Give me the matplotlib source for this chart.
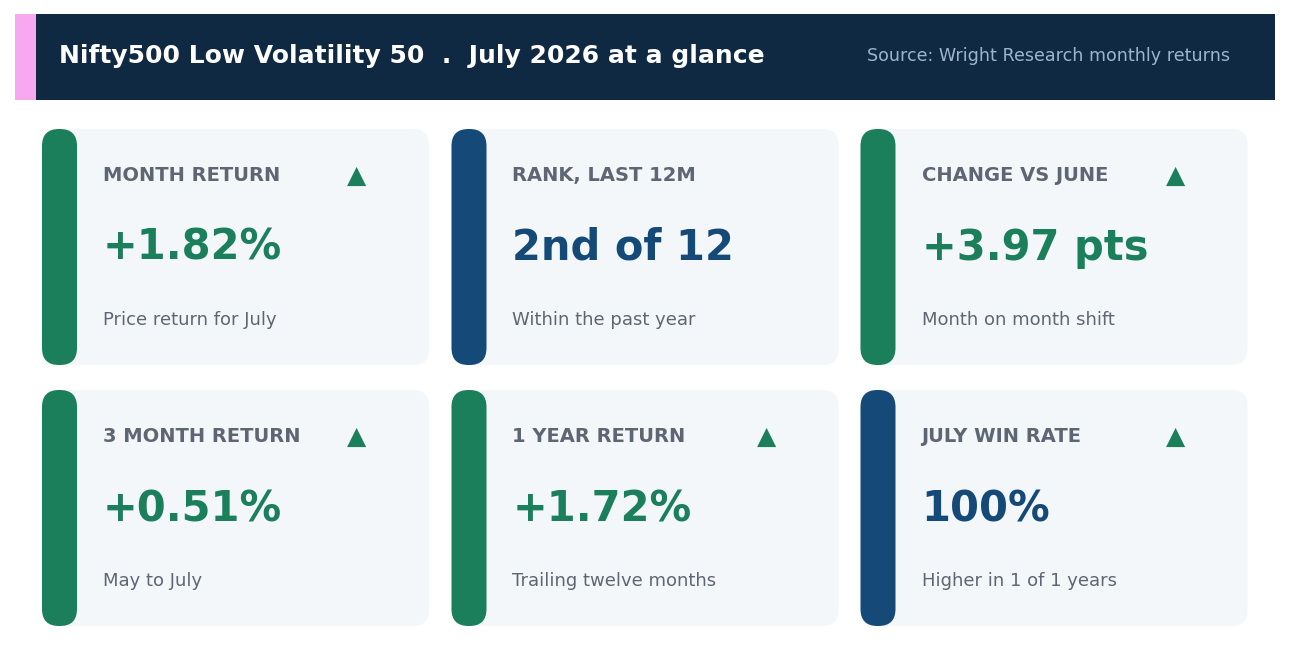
import matplotlib
matplotlib.use("Agg")
import matplotlib.pyplot as plt
from matplotlib.patches import FancyBboxPatch, Rectangle

plt.rcParams['font.family'] = ['DejaVu Sans']

# card content
labels = ["MONTH RETURN", "RANK, LAST 12M", "CHANGE VS JUNE",
          "3 MONTH RETURN", "1 YEAR RETURN", "JULY WIN RATE"]
values = ["+1.82%", "2nd of 12", "+3.97 pts", "+0.51%", "+1.72%", "100%"]
notes = ["Price return for July", "Within the past year", "Month on month shift",
         "May to July", "Trailing twelve months", "Higher in 1 of 1 years"]
tones = ["up", "neutral", "up", "up", "up", "neutral"]
arrows = [True, False, True, True, True, True]

title = "Nifty500 Low Volatility 50  .  July 2026 at a glance"
source = "Source: Wright Research monthly returns"

GREEN = "#1A7F5A"
NAVY = "#154A78"
HEAD = "#0F2942"
PINK = "#F7A8F0"
CARD = "#F3F7FA"
LABEL = "#5F6673"
tone_col = {"up": GREEN, "neutral": NAVY}

W, H = 1290, 659
fig = plt.figure(figsize=(W / 100, H / 100), dpi=100)
ax = fig.add_axes([0, 0, 1, 1])
ax.set_xlim(0, W)
ax.set_ylim(H, 0)
ax.axis("off")

# header band
ax.add_patch(Rectangle((15, 14), 1260, 86, facecolor=HEAD, edgecolor="none"))
ax.add_patch(Rectangle((15, 14), 21, 86, facecolor=PINK, edgecolor="none"))
ax.text(59, 63, title, color="white", fontsize=18, fontweight="bold",
        va="baseline", ha="left")
ax.text(1230, 61, source, color="#9DB4CC", fontsize=12.6, va="baseline", ha="right")

col_x = [42, 451.5, 860.5]
row_y = [129, 390]
cw, ch = 387, 236

for i in range(6):
    x0 = col_x[i % 3]
    y0 = row_y[i // 3]
    c = tone_col[tones[i]]
    ax.add_patch(FancyBboxPatch((x0 + 12, y0 + 12), cw - 24, ch - 24,
                                boxstyle="round,pad=12,rounding_size=16",
                                facecolor=CARD, edgecolor="none"))
    ax.add_patch(FancyBboxPatch((x0 + 17, y0 + 17), 1, ch - 34,
                                boxstyle="round,pad=17,rounding_size=17",
                                facecolor=c, edgecolor="none"))
    ax.text(x0 + 61, y0 + 52, labels[i], color=LABEL, fontsize=14,
            fontweight="bold", va="baseline", ha="left")
    ax.text(x0 + 61, y0 + 131, values[i], color=c, fontsize=30,
            fontweight="bold", va="baseline", ha="left")
    ax.text(x0 + 61, y0 + 196, notes[i], color=LABEL, fontsize=13,
            va="baseline", ha="left")
    if arrows[i]:
        ax.text(x0 + 315, y0 + 54, "\u25B2", color=GREEN, fontsize=18,
                va="baseline", ha="center")

fig.savefig("out.png", dpi=100, facecolor="white")
